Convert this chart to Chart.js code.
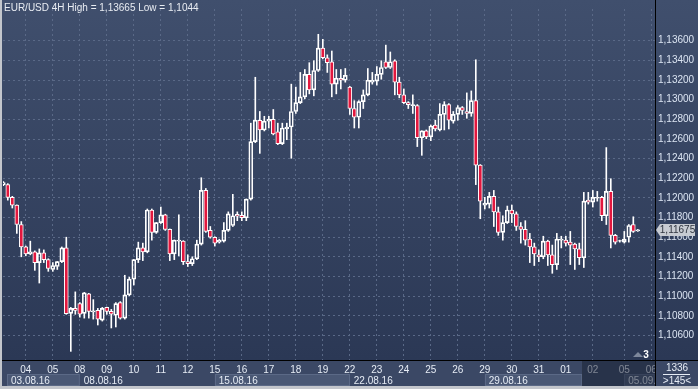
<!DOCTYPE html>
<html>
<head>
<meta charset="utf-8">
<script src="https://cdn.jsdelivr.net/npm/chart.js@4.4.1/dist/chart.umd.min.js"></script>
<style>
  html, body { margin: 0; padding: 0; background: #c3c6cc; }
  #wrap { width: 698px; height: 389px; }
</style>
</head>
<body>
<div id="wrap"><canvas id="c" width="698" height="389"></canvas></div>
<script>
// EUR/USD 4H candles, 03.08.16 - 05.09.16
const openP = [
  1.12136, 1.12136, 1.12007, 1.11928, 1.11730, 1.11502, 1.11432, 1.11452, 1.11343, 1.11442,
  1.11373, 1.11273, 1.11303, 1.11353, 1.11492, 1.10827, 1.10877, 1.10926, 1.10827, 1.11025,
  1.10842, 1.10857, 1.10758, 1.10887, 1.10847, 1.10807, 1.10936, 1.10778, 1.11015, 1.11174,
  1.11373, 1.11492, 1.11452, 1.11878, 1.11650, 1.11750, 1.11829, 1.11680, 1.11432, 1.11561,
  1.11561, 1.11353, 1.11333, 1.11382, 1.11531, 1.12077, 1.11670, 1.11601, 1.11551, 1.11561,
  1.11670, 1.11720, 1.11834, 1.11824, 1.11799, 1.11988, 1.12573, 1.12791, 1.12692, 1.12781,
  1.12801, 1.12672, 1.12553, 1.12702, 1.12722, 1.12880, 1.12970, 1.13029, 1.13257, 1.13099,
  1.13297, 1.13525, 1.13426, 1.13386, 1.13158, 1.13218, 1.13198, 1.13128, 1.12910, 1.12821,
  1.12980, 1.13049, 1.13178, 1.13188, 1.13257, 1.13386, 1.13327, 1.13396, 1.13178, 1.13049,
  1.12970, 1.12940, 1.12940, 1.12613, 1.12682, 1.12622, 1.12742, 1.12692, 1.12850, 1.12950,
  1.12781, 1.12850, 1.12920, 1.12880, 1.12860, 1.12990, 1.12335, 1.11928, 1.11938, 1.12017,
  1.11859, 1.11650, 1.11750, 1.11878, 1.11839, 1.11710, 1.11680, 1.11581, 1.11502, 1.11422,
  1.11402, 1.11561, 1.11422, 1.11323, 1.11571, 1.11571, 1.11551, 1.11531, 1.11482, 1.11392,
  1.11978, 1.11958, 1.11998, 1.12007, 1.11819, 1.12067, 1.11620, 1.11561, 1.11551, 1.11601,
  1.11730, 1.11665
];
const highP = [
  1.12166, 1.12146, 1.12017, 1.11930, 1.11760, 1.11511, 1.11561, 1.11462, 1.11482, 1.11472,
  1.11382, 1.11343, 1.11355, 1.11502, 1.11601, 1.10887, 1.11045, 1.10936, 1.11040, 1.11030,
  1.10966, 1.10877, 1.10887, 1.10890, 1.10867, 1.10936, 1.10946, 1.11214, 1.11194, 1.11375,
  1.11551, 1.11541, 1.11888, 1.11888, 1.11752, 1.11908, 1.11835, 1.11685, 1.11573, 1.11829,
  1.11566, 1.11422, 1.11402, 1.11571, 1.12206, 1.12097, 1.11710, 1.11606, 1.11581, 1.11750,
  1.11859, 1.12037, 1.11859, 1.11859, 1.11990, 1.12761, 1.13228, 1.12880, 1.12831, 1.12831,
  1.12900, 1.12761, 1.12761, 1.12761, 1.13158, 1.13128, 1.13277, 1.13307, 1.13376, 1.13396,
  1.13665, 1.13614, 1.13456, 1.13495, 1.13307, 1.13307, 1.13317, 1.13135, 1.12990, 1.12990,
  1.13099, 1.13317, 1.13277, 1.13337, 1.13396, 1.13555, 1.13485, 1.13406, 1.13228, 1.13109,
  1.12980, 1.13049, 1.12950, 1.12684, 1.12692, 1.12742, 1.12791, 1.12960, 1.12980, 1.12960,
  1.12880, 1.12940, 1.12930, 1.13069, 1.13089, 1.13406, 1.12340, 1.12007, 1.12057, 1.12077,
  1.11908, 1.11819, 1.11918, 1.11928, 1.11859, 1.11750, 1.11769, 1.11640, 1.11541, 1.11472,
  1.11611, 1.11571, 1.11521, 1.11640, 1.11611, 1.11611, 1.11660, 1.11541, 1.11541, 1.12057,
  1.12057, 1.12077, 1.12067, 1.12017, 1.12513, 1.12196, 1.11630, 1.11571, 1.11660, 1.11730,
  1.11809, 1.11680
];
const lowP = [
  1.12126, 1.11978, 1.11898, 1.11640, 1.11402, 1.11412, 1.11422, 1.11264, 1.11135, 1.11343,
  1.11254, 1.11254, 1.11273, 1.11343, 1.10817, 1.10440, 1.10817, 1.10788, 1.10778, 1.10778,
  1.10768, 1.10708, 1.10748, 1.10817, 1.10678, 1.10688, 1.10768, 1.10768, 1.11006, 1.11115,
  1.11343, 1.11363, 1.11442, 1.11571, 1.11640, 1.11740, 1.11670, 1.11363, 1.11373, 1.11412,
  1.11323, 1.11303, 1.11313, 1.11373, 1.11521, 1.11650, 1.11591, 1.11511, 1.11541, 1.11551,
  1.11660, 1.11710, 1.11769, 1.11769, 1.11769, 1.11978, 1.12563, 1.12454, 1.12682, 1.12712,
  1.12642, 1.12543, 1.12543, 1.12593, 1.12404, 1.12860, 1.12960, 1.13009, 1.13059, 1.13039,
  1.13287, 1.13416, 1.13277, 1.13029, 1.13059, 1.13109, 1.13178, 1.12850, 1.12712, 1.12712,
  1.12910, 1.13039, 1.13158, 1.13148, 1.13208, 1.13317, 1.13317, 1.13049, 1.13019, 1.12960,
  1.12910, 1.12860, 1.12523, 1.12434, 1.12603, 1.12583, 1.12682, 1.12682, 1.12692, 1.12702,
  1.12761, 1.12791, 1.12850, 1.12811, 1.12831, 1.12136, 1.11789, 1.11888, 1.11898, 1.11710,
  1.11620, 1.11571, 1.11740, 1.11750, 1.11670, 1.11541, 1.11521, 1.11343, 1.11313, 1.11353,
  1.11382, 1.11313, 1.11234, 1.11273, 1.11492, 1.11511, 1.11323, 1.11273, 1.11323, 1.11293,
  1.11938, 1.11908, 1.11968, 1.11769, 1.11730, 1.11492, 1.11531, 1.11551, 1.11541, 1.11551,
  1.11650, 1.11660
];
const closeP = [
  1.12156, 1.12007, 1.11928, 1.11730, 1.11502, 1.11432, 1.11452, 1.11343, 1.11442, 1.11373,
  1.11283, 1.11313, 1.11353, 1.11492, 1.10824, 1.10877, 1.10857, 1.10817, 1.11035, 1.10847,
  1.10852, 1.10768, 1.10877, 1.10847, 1.10817, 1.10926, 1.10778, 1.11015, 1.11174, 1.11373,
  1.11492, 1.11452, 1.11878, 1.11650, 1.11750, 1.11829, 1.11680, 1.11432, 1.11571, 1.11571,
  1.11353, 1.11333, 1.11382, 1.11531, 1.12077, 1.11660, 1.11601, 1.11541, 1.11571, 1.11670,
  1.11839, 1.11819, 1.11814, 1.11799, 1.11988, 1.12573, 1.12791, 1.12692, 1.12781, 1.12801,
  1.12652, 1.12553, 1.12712, 1.12722, 1.12880, 1.12970, 1.13029, 1.13257, 1.13099, 1.13297,
  1.13525, 1.13426, 1.13376, 1.13158, 1.13218, 1.13198, 1.13247, 1.12910, 1.12821, 1.12980,
  1.13049, 1.13198, 1.13198, 1.13257, 1.13327, 1.13327, 1.13386, 1.13178, 1.13049, 1.12970,
  1.12950, 1.12950, 1.12613, 1.12682, 1.12622, 1.12732, 1.12702, 1.12850, 1.12950, 1.12791,
  1.12850, 1.12920, 1.12890, 1.12860, 1.12990, 1.12335, 1.11968, 1.11948, 1.12017, 1.11859,
  1.11650, 1.11750, 1.11878, 1.11839, 1.11710, 1.11680, 1.11571, 1.11502, 1.11432, 1.11402,
  1.11561, 1.11422, 1.11323, 1.11581, 1.11581, 1.11541, 1.11521, 1.11482, 1.11392, 1.11968,
  1.11958, 1.12007, 1.12007, 1.11819, 1.12067, 1.11620, 1.11551, 1.11566, 1.11581, 1.11720,
  1.11660, 1.11675
];

// first bar of each day (bar index) and its label
const dayStarts = [5, 11, 17, 23, 29, 35, 41, 47, 53, 59, 65, 71, 77, 83, 89, 95, 101, 107, 113, 119, 125, 131, 138, 144];
const dayLabels = ['04', '05', '08', '09', '10', '11', '12', '15', '16', '17', '18', '19',
                   '22', '23', '24', '25', '26', '29', '30', '31', '01', '02', '05', '06'];
const weekStarts = [0, 17, 47, 77, 107, 138];
const weekLabels = ['03.08.16', '08.08.16', '15.08.16', '22.08.16', '29.08.16', '05.09.16'];
const priceTicks = [1.106, 1.108, 1.110, 1.112, 1.114, 1.116, 1.118, 1.120,
                    1.122, 1.124, 1.126, 1.128, 1.130, 1.132, 1.134, 1.136];

const title = 'EUR/USD 4H High = 1,13665 Low = 1,1044';
const barCount = '1336';
const zoomText = '>145<';
const shadeFrom = 128.6; // start of the darkened navigator range (bar units)

const FONT = '"Liberation Sans", Arial, sans-serif';
const RED = '#e2173e';
const GRID = '#5a6987';

const fmt = v => v.toFixed(5).replace('.', ',');
const isBull = i => closeP[i] >= openP[i];

const idx = openP.map((_, i) => i);
const bodies = idx.map(i => ({ x: i, y: [openP[i], closeP[i]] }));
const upperWicks = idx.map(i => ({ x: i, y: [Math.max(openP[i], closeP[i]), highP[i]] }));
const lowerWicks = idx.map(i => ({ x: i, y: [lowP[i], Math.min(openP[i], closeP[i])] }));

const frame = {
  id: 'frame',
  beforeDraw(chart) {
    const { ctx, chartArea: a, width, height } = chart;
    ctx.save();
    const g = ctx.createLinearGradient(0, 0, 0, a.bottom);
    g.addColorStop(0, '#404f6d');
    g.addColorStop(1, '#2b3855');
    ctx.fillStyle = g;
    ctx.fillRect(0, 0, width, a.bottom);
    ctx.fillStyle = '#3b4865';
    ctx.fillRect(0, a.bottom, width, height - a.bottom);
    ctx.restore();
  },
  afterDraw(chart) {
    const { ctx, chartArea: a, width, height, scales } = chart;
    const xs = scales.x, ys = scales.y;
    const bottom = height - 3;
    ctx.save();

    // bottom-right panel
    ctx.fillStyle = '#3b4865';
    ctx.fillRect(a.right, a.bottom, width - a.right, bottom - a.bottom);

    // week row
    const rowTop = a.bottom + 14;
    ctx.save();
    ctx.beginPath();
    ctx.rect(0, a.bottom, a.right, bottom - a.bottom);
    ctx.clip();
    ctx.font = '10px ' + FONT;
    ctx.textBaseline = 'middle';
    ctx.textAlign = 'left';
    const shadeX = xs.getPixelForValue(shadeFrom);
    weekStarts.forEach((s, i) => {
      const x0 = Math.max(xs.getPixelForValue(s), a.left + 4);
      let x1 = i + 1 < weekStarts.length ? xs.getPixelForValue(weekStarts[i + 1]) : a.right;
      if (x0 < shadeX) x1 = Math.min(x1, shadeX);
      if (i % 2 === 0 || i === weekStarts.length - 1) {
        ctx.fillStyle = '#4a5875';
        ctx.fillRect(x0, rowTop, x1 - x0, bottom - rowTop);
        ctx.strokeStyle = '#5b6986';
        ctx.lineWidth = 1;
        ctx.strokeRect(Math.round(x0) + 0.5, rowTop + 0.5, x1 - x0 - 1, bottom - rowTop - 1);
      }
      ctx.fillStyle = '#e6ecf5';
      ctx.fillText(weekLabels[i], x0 + 4, (rowTop + bottom) / 2 + 1);
    });
    // darkened navigator range
    ctx.fillStyle = 'rgba(22, 30, 48, 0.5)';
    ctx.fillRect(shadeX, a.bottom + 1, a.right - shadeX, bottom - a.bottom - 1);
    ctx.fillStyle = '#2a3448';
    ctx.fillRect(Math.round(shadeX), a.bottom + 1, 1, bottom - a.bottom - 1);
    ctx.restore();

    // black separators
    ctx.fillStyle = '#000000';
    ctx.fillRect(a.right, 0, 1, bottom);
    ctx.fillRect(0, a.bottom, width, 1);

    // bar count / zoom text
    const cx = (a.right + width) / 2 + 0.5;
    ctx.font = '10px ' + FONT;
    ctx.textAlign = 'center';
    ctx.textBaseline = 'middle';
    ctx.fillStyle = '#e6ecf5';
    ctx.fillText(barCount, cx, a.bottom + 8);
    ctx.fillRect(a.right + 8, a.bottom + 14, width - a.right - 16, 1);
    ctx.fillText(zoomText, cx, a.bottom + 21);

    // "3" marker
    ctx.fillStyle = '#7d879b';
    ctx.beginPath();
    ctx.moveTo(a.right - 22, a.bottom - 3);
    ctx.lineTo(a.right - 12, a.bottom - 3);
    ctx.lineTo(a.right - 17, a.bottom - 8);
    ctx.closePath();
    ctx.fill();
    ctx.fillStyle = '#ffffff';
    ctx.font = 'bold 10px ' + FONT;
    ctx.fillText('3', a.right - 9, a.bottom - 5);

    // last price tag
    const last = closeP[closeP.length - 1];
    const py = ys.getPixelForValue(last);
    ctx.fillStyle = '#c7cbd2';
    ctx.beginPath();
    ctx.moveTo(a.right + 1, py);
    ctx.lineTo(a.right + 5, py - 6);
    ctx.lineTo(width - 3, py - 6);
    ctx.lineTo(width - 3, py + 6);
    ctx.lineTo(a.right + 5, py + 6);
    ctx.closePath();
    ctx.fill();
    ctx.fillStyle = '#2f3540';
    ctx.font = '10px ' + FONT;
    ctx.fillText(fmt(last), (a.right + 5 + width - 3) / 2, py + 0.5);

    // title
    ctx.textAlign = 'left';
    ctx.fillStyle = '#e8ecf2';
    ctx.font = '10px ' + FONT;
    ctx.fillText(title, 4, 8);

    // outer frame
    ctx.fillStyle = '#c3c6cc';
    ctx.fillRect(0, 0, 2, height);
    ctx.fillRect(0, bottom, width, 3);
    ctx.restore();
  }
};

new Chart(document.getElementById('c'), {
  type: 'bar',
  data: {
    datasets: [
      {
        data: bodies,
        order: 0,
        grouped: false,
        barThickness: 4,
        borderWidth: 1,
        borderSkipped: false,
        borderColor: '#ffffff',
        backgroundColor: ctx => isBull(ctx.dataIndex) ? 'rgba(0,0,0,0)' : RED
      },
      {
        data: upperWicks,
        order: 1,
        grouped: false,
        barThickness: 1,
        borderWidth: 0,
        backgroundColor: '#ffffff'
      },
      {
        data: lowerWicks,
        order: 1,
        grouped: false,
        barThickness: 1,
        borderWidth: 0,
        backgroundColor: '#ffffff'
      }
    ]
  },
  options: {
    responsive: false,
    animation: false,
    events: [],
    layout: { padding: { left: 3, top: 0, right: 0, bottom: 3 } },
    plugins: { legend: { display: false }, tooltip: { enabled: false } },
    scales: {
      x: {
        type: 'linear',
        min: -0.067,
        max: 144.822,
        offset: false,
        afterBuildTicks: s => { s.ticks = dayStarts.map(v => ({ value: v })); },
        afterFit: s => { s.height = 26; },
        ticks: {
          autoSkip: false,
          maxRotation: 0,
          padding: 4,
          color: '#e6ecf5',
          font: { family: FONT, size: 10 },
          callback: (v, i) => dayLabels[i]
        },
        grid: { color: GRID, lineWidth: 1, drawTicks: false, offset: false },
        border: { display: false, dash: [2, 3] }
      },
      y: {
        type: 'linear',
        position: 'right',
        min: 1.103521,
        max: 1.139223,
        afterBuildTicks: s => { s.ticks = priceTicks.map(v => ({ value: v })); },
        afterFit: s => { s.width = 43; },
        ticks: {
          padding: 3,
          color: '#dbe4f2',
          font: { family: FONT, size: 10 },
          callback: v => fmt(v)
        },
        grid: { color: GRID, lineWidth: 1, drawTicks: false },
        border: { display: false, dash: [2, 3] }
      }
    }
  },
  plugins: [frame]
});
</script>
</body>
</html>
